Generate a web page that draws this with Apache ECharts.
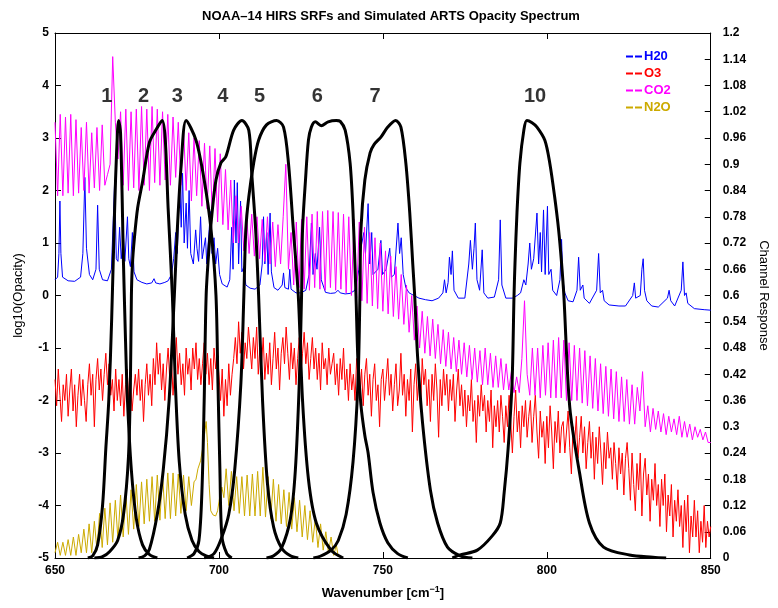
<!DOCTYPE html>
<html>
<head>
<meta charset="utf-8">
<title>NOAA-14 HIRS SRFs</title>
<script src="https://cdn.jsdelivr.net/npm/echarts@6/dist/echarts.min.js"></script>
<style>
  html, body { margin: 0; padding: 0; background: #fff; }
  #chart { width: 778px; height: 608px; }
</style>
</head>
<body>
<div id="chart"></div>
<script>
// spectra: CO2 and O3 on a regular wavenumber grid, H2O and N2O as [wavenumber, log10 opacity]
const CO2_START = 650, CO2_STEP = 0.8
const co2Values = [
  3.3, 1.9, 3.45, 1.9, 3.4, 1.95, 3.45, 1.9, 3.35, 1.95,
  3.2, 2.0, 3.3, 1.95, 3.1, 2.05, 3.2, 2.0, 3.25, 2.1,
  2.3, 2.5, 4.55, 3.3, 2.6, 3.5, 2.1, 3.55, 2.0, 3.5,
  2.05, 3.55, 2.0, 3.6, 2.1, 3.55, 2.0, 3.6, 2.15, 3.55,
  2.1, 3.5, 2.2, 3.45, 2.1, 3.4, 2.25, 3.3, 2.1, 3.2,
  2.0, 3.1, 1.8, 3.0, 1.9, 2.95, 1.7, 2.9, 1.65, 2.85,
  1.5, 2.8, 1.4, 2.7, 1.35, 2.4, 1.25, 2.2, 1.0, 1.9,
  1.0, 1.7, 0.85, 1.6, 0.8, 1.55, 0.75, 1.5, 0.7, 1.45,
  0.65, 1.5, 0.6, 1.4, 0.55, 1.35, 0.6, 1.5, 2.5, 0.5,
  1.2, 0.2, 1.4, 0.15, 1.45, 0.12, 1.5, 0.1, 1.55, 0.15,
  1.6, 0.12, 1.6, 0.1, 1.62, 0.15, 1.6, 0.1, 1.58, 0.12,
  1.55, 0.05, 1.5, 0.0, 1.45, -0.05, 1.4, -0.1, 1.3, -0.15,
  1.2, -0.2, 1.1, -0.25, 1.0, -0.3, 0.85, -0.35, 0.75, -0.4,
  0.55, -0.45, 0.4, -0.55, 0.2, -0.7, 0.0, -0.85, -0.2, -1.0,
  -0.3, -1.1, -0.4, -1.15, -0.45, -1.2, -0.55, -1.3, -0.65, -1.35,
  -0.7, -1.4, -0.8, -1.45, -0.85, -1.5, -0.9, -1.55, -0.95, -1.6,
  -1.0, -1.65, -1.05, -1.7, -1.0, -1.7, -1.1, -1.75, -1.15, -1.75,
  -1.2, -1.8, -1.3, -1.8, -1.45, -1.85, -1.55, -1.85, -1.2, -0.1,
  -1.5, -1.9, -1.0, -1.9, -1.0, -1.95, -0.95, -1.9, -0.9, -1.95,
  -0.85, -1.95, -0.8, -1.95, -0.85, -2.0, -0.9, -2.0, -0.95, -2.0,
  -1.0, -2.05, -1.05, -2.1, -1.15, -2.15, -1.2, -2.2, -1.3, -2.25,
  -1.35, -2.3, -1.4, -2.35, -1.45, -2.4, -1.55, -2.4, -1.6, -2.45,
  -1.7, -2.45, -1.75, -2.2, -1.45, -2.5, -2.1, -2.6, -2.15, -2.55,
  -2.2, -2.6, -2.25, -2.65, -2.3, -2.6, -2.35, -2.65, -2.3, -2.7,
  -2.4, -2.7, -2.45, -2.75, -2.5, -2.7, -2.55, -2.75, -2.6, -2.8, -2.8
]

const O3_START = 650, O3_STEP = 0.5
const o3Values = [
  -1.6, -2.1, -1.4, -1.9, -2.4, -1.7, -2.0, -1.5, -2.3, -1.8,
  -1.4, -2.2, -1.7, -2.5, -1.9, -1.5, -2.1, -1.6, -2.0, -2.4,
  -1.7, -1.3, -1.9, -1.5, -2.5, -1.6, -1.2, -1.8, -1.4, -2.0,
  -1.5, -1.1, -1.7, -1.3, -1.9, -1.6, -2.2, -1.4, -2.0, -1.6,
  -2.1, -1.5, -2.3, -1.7, -1.4, -2.0, -1.6, -2.2, -1.8, -1.5,
  -1.9, -1.4, -2.0, -1.6, -2.4, -1.7, -1.3, -1.9, -1.5, -2.1,
  -1.2, -1.7, -0.9, -1.5, -1.1, -1.8, -1.3, -2.0, -1.4, -1.0,
  -1.6, -1.2, -1.9, -1.4, -0.8, -1.5, -1.1, -1.7, -1.3, -1.9,
  -1.0, -1.5, -1.2, -1.8, -1.0, -1.4, -0.9, -1.6, -1.2, -1.7,
  -1.3, -0.9, -1.5, -1.1, -1.7, -1.2, -1.8, -1.0, -1.4, -1.1,
  -1.5, -2.0, -1.4, -2.3, -1.6, -2.1, -1.3, -1.9, -1.5, -1.2,
  -0.8, -1.3, -0.5, -1.1, -0.7, -1.4, -0.9, -1.2, -0.6, -1.0,
  -1.4, -0.8, -1.2, -0.6, -1.5, -1.0, -1.3, -0.8, -1.6, -1.1,
  -1.5, -0.9, -1.7, -1.2, -0.7, -1.4, -1.0, -1.8, -1.1, -0.8,
  -1.3, -0.6, -1.1, -1.6, -0.9, -1.4, -1.0, -1.7, -1.2, -0.8,
  -1.5, -1.1, -0.7, -1.3, -0.9, -1.6, -1.2, -0.8, -1.4, -1.0,
  -1.6, -1.1, -1.8, -0.9, -1.4, -1.2, -1.7, -1.0, -1.5, -1.3,
  -1.1, -1.7, -1.3, -1.9, -1.2, -1.6, -1.0, -1.8, -1.4, -2.0,
  -1.3, -1.8, -1.5, -2.0, -1.2, -1.6, -1.9, -1.4, -2.1, -1.5,
  -1.2, -1.9, -1.5, -2.3, -1.6, -1.3, -2.0, -1.7, -2.5, -1.6,
  -1.4, -2.0, -1.6, -1.2, -1.9, -1.5, -2.2, -1.7, -1.3, -2.1,
  -1.8, -1.1, -1.9, -1.5, -2.3, -1.6, -2.0, -1.4, -2.6, -1.7,
  -1.3, -2.0, -1.5, -2.2, -1.2, -1.7, -1.4, -2.1, -1.6, -2.4,
  -1.5, -2.0, -1.3, -1.8, -2.7, -1.6, -2.1, -1.4, -1.9, -1.5,
  -2.2, -1.6, -2.0, -1.5, -2.4, -1.8, -1.4, -2.1, -1.7, -2.3,
  -1.8, -2.5, -1.9, -2.2, -1.6, -2.4, -2.0, -2.8, -1.9, -2.3,
  -1.7, -2.2, -1.9, -2.6, -2.0, -2.4, -1.8, -2.9, -2.1, -2.5,
  -2.0, -2.6, -1.9, -2.3, -2.8, -2.1, -2.5, -1.9, -2.4, -3.0,
  -2.3, -1.8, -2.6, -2.2, -2.9, -2.1, -2.5, -2.0, -2.7, -2.3,
  -2.0, -2.8, -2.3, -1.9, -2.6, -3.1, -2.2, -2.7, -2.4, -3.2,
  -2.3, -2.9, -2.1, -2.6, -3.3, -2.4, -2.8, -2.2, -3.0, -2.5,
  -2.4, -3.0, -2.6, -2.2, -2.9, -3.4, -2.5, -2.8, -2.3, -3.1,
  -2.7, -2.3, -3.0, -2.5, -3.3, -2.8, -2.4, -3.1, -2.6, -3.5,
  -2.7, -3.2, -2.5, -3.0, -3.6, -2.8, -3.3, -2.6, -3.1, -2.9,
  -3.5, -2.8, -3.2, -3.7, -2.9, -3.4, -3.0, -3.8, -3.1, -2.8,
  -3.3, -3.9, -3.0, -3.6, -4.1, -3.2, -3.7, -3.0, -4.2, -3.4,
  -3.1, -3.8, -3.4, -4.3, -3.5, -3.9, -3.2, -4.0, -3.6, -4.4,
  -3.5, -4.0, -3.4, -4.5, -3.8, -4.2, -3.6, -4.6, -3.9, -4.3,
  -3.7, -4.4, -4.0, -4.8, -3.9, -4.5, -3.8, -4.9, -4.2, -4.6,
  -3.9, -4.6, -4.1, -4.9, -4.3, -4.7, -4.0, -4.8, -4.3, -4.6,
  -4.4
]

const h2oPoints = [
  [650, 0.3], [650.8, 0.35], [651.2, 0.8], [651.5, 1.8], [651.8, 0.8], [652.3, 0.35], [654, 0.28], [656, 0.27],
  [657.8, 0.35], [658.5, 0.8], [659.1, 2.25], [659.6, 0.9], [660.5, 0.4], [661.5, 0.3], [662.5, 0.5], [663.0, 1.72],
  [663.5, 0.5], [664.5, 0.3], [666, 0.28], [667.2, 0.5], [667.8, 1.5], [668.2, 2.2], [668.7, 0.7], [669.2, 0.65],
  [669.7, 1.3], [670.2, 0.7], [670.9, 1.1], [671.3, 0.65], [672.1, 1.5], [672.5, 0.7], [673.0, 0.55], [673.6, 1.2],
  [674.1, 0.45], [675, 0.3], [676.5, 0.25], [678, 0.22], [679.5, 0.24], [680.2, 0.32], [680.7, 0.24], [682, 0.22],
  [683.5, 0.25], [684.5, 0.28], [685.5, 0.4], [686.2, 0.7], [686.8, 1.2], [687.3, 0.8], [688.0, 2.2], [688.5, 1.3],
  [688.9, 2.33], [689.4, 1.0], [690.0, 1.76], [690.4, 0.9], [690.9, 2.0], [691.4, 0.8], [692.2, 0.6], [692.9, 1.25],
  [693.3, 0.9], [693.8, 0.65], [694.4, 1.5], [694.9, 0.7], [695.9, 1.1], [696.3, 0.6], [697.4, 1.6], [697.9, 0.8],
  [698.5, 1.1], [699, 0.6], [699.6, 0.9], [700.2, 0.4], [701, 0.22], [702.5, 0.16], [703.3, 0.3], [703.9, 1.3],
  [704.3, 0.5], [704.7, 2.2], [705.2, 1.0], [705.6, 2.15], [706.0, 0.6], [706.6, 1.8], [707.0, 0.45], [707.6, 0.55],
  [708.2, 0.2], [709.5, 0.14], [711, 0.12], [712.5, 0.2], [713.2, 0.6], [713.6, 1.5], [714, 0.6], [714.6, 1.2],
  [715, 0.4], [715.6, 1.57], [716, 0.45], [716.8, 0.15], [718, 0.1], [719.3, 0.2], [719.7, 0.43], [720.1, 0.15],
  [721.2, 0.12], [721.6, 0.5], [722, 0.12], [723.5, 0.05], [725, 0.05], [726.5, 0.1], [727.5, 0.4], [728.2, 1.38],
  [728.7, 0.4], [729.4, 0.8], [729.9, 0.5], [730.7, 1.3], [731.2, 0.3], [732.5, 0.06], [734, 0.04], [735.5, 0.05],
  [736.3, 0.1], [737, 0.05], [738.5, 0.03], [740, 0.04], [741.5, 0.1], [742.7, 0.5], [743.3, 0.9], [744.2, 1.2],
  [744.7, 0.8], [745.5, 1.75], [746, 0.6], [746.6, 1.2], [747, 0.4], [748.5, 0.5], [749.4, 1.05], [749.9, 0.4],
  [751, 0.5], [752.1, 0.9], [752.6, 0.35], [753.5, 0.4], [754.6, 1.38], [755.1, 0.8], [755.6, 1.1], [756.2, 0.4],
  [757, 0.15], [758, 0.05], [759.5, 0.0], [761, -0.05], [763, -0.08], [765, -0.1], [767, -0.05], [768.3, 0.05],
  [768.8, 0.3], [769.3, 0.05], [769.9, 0.25], [770.3, 0.73], [770.8, 0.4], [771.2, 0.85], [771.7, 0.1], [773, -0.05],
  [775, -0.05], [776.2, 0.6], [776.7, 1.05], [777.3, 0.5], [777.8, 0.9], [778.2, 1.38], [778.7, 0.3], [779.5, 0.1],
  [780.3, 0.87], [780.8, 0.05], [782, -0.05], [784, -0.03], [785.3, 0.3], [785.8, 1.44], [786.3, 0.2], [787.5, -0.05],
  [789.5, -0.05], [791, 0.0], [792, 0.05], [793, 0.3], [793.6, 0.2], [794.3, 0.6], [794.8, 1.0], [795.3, 0.5],
  [796.0, 0.7], [797, 1.57], [797.5, 0.6], [798, 1.2], [798.4, 0.45], [799.0, 1.63], [799.5, 0.4], [800.2, 1.7],
  [800.6, 0.4], [801.3, 0.5], [801.8, 0.1], [803, 0.0], [804, 0.3], [804.5, 1.07], [804.9, 0.3], [805.5, 0.05],
  [806.5, -0.1], [808, -0.12], [809.2, 0.1], [809.7, 0.73], [810.2, 0.1], [811, 0.2], [811.4, -0.05], [813, -0.15],
  [815.2, 0.1], [815.8, 0.8], [816.3, 0.05], [817, 0.1], [817.5, -0.1], [819, -0.18], [822, -0.2], [824, -0.2],
  [826.2, 0.0], [826.7, 0.24], [827.1, -0.05], [828.5, 0.0], [829.0, 0.5], [829.4, 0.7], [829.8, 0.1], [830.5, -0.1],
  [832, -0.2], [834, -0.22], [836.8, -0.05], [837.3, 0.1], [837.8, -0.1], [839, -0.2], [841, 0.1], [841.5, 0.64],
  [842, 0.0], [842.5, 0.05], [843, -0.15], [845, -0.25], [848, -0.27], [850, -0.28]
]

const n2oPoints = [
  [650.0, -4.9], [650.8, -4.7], [651.6, -4.95], [652.4, -4.7], [653.2, -4.95], [654.0, -4.65], [654.8, -4.95],
  [655.6, -4.6], [656.4, -4.95], [657.2, -4.55], [658.0, -4.9], [658.8, -4.45], [659.6, -4.9], [660.4, -4.35],
  [661.2, -4.9], [662.0, -4.3], [662.8, -4.85], [663.6, -4.15], [664.4, -4.8], [665.2, -4.05], [666.0, -4.75],
  [666.8, -3.95], [667.6, -4.7], [668.4, -3.9], [669.2, -4.65], [670.0, -3.8], [670.8, -4.6], [671.6, -3.75],
  [672.4, -4.55], [673.2, -3.7], [674.0, -4.45], [674.8, -3.6], [675.6, -4.4], [676.4, -3.55], [677.2, -4.35],
  [678.0, -3.5], [678.8, -4.3], [679.6, -3.45], [680.4, -4.3], [681.2, -3.42], [682.0, -4.28], [682.8, -3.4],
  [683.6, -4.25], [684.4, -3.38], [685.2, -4.25], [686.0, -3.38], [686.8, -4.2], [687.6, -3.4], [688.4, -4.15],
  [689.2, -3.42], [690.0, -4.1], [690.8, -3.45], [691.6, -4.0], [692.4, -3.55], [693.0, -3.5], [693.6, -3.3],
  [694.4, -3.15], [695.2, -2.85], [695.8, -2.55], [696.1, -2.4], [696.5, -2.8], [697.0, -3.6], [697.5, -4.1],
  [698.2, -4.18], [699.0, -4.2], [699.6, -4.1], [700.2, -3.85], [700.9, -3.65], [701.5, -3.85], [702.2, -3.3],
  [703.0, -4.0], [703.8, -3.35], [704.6, -4.1], [705.4, -3.45], [706.2, -4.15], [707.0, -3.45], [707.8, -4.2],
  [708.6, -3.42], [709.4, -4.2], [710.2, -3.4], [711.0, -4.2], [711.8, -3.35], [712.6, -4.2], [713.4, -3.27],
  [714.2, -4.22], [715.0, -3.45], [715.8, -4.25], [716.6, -3.5], [717.4, -4.3], [718.2, -3.6], [719.0, -4.35],
  [719.8, -3.7], [720.6, -4.4], [721.4, -3.75], [722.2, -4.45], [723.0, -3.85], [723.8, -4.5], [724.6, -3.9],
  [725.4, -4.6], [726.2, -4.0], [727.0, -4.65], [727.8, -4.1], [728.6, -4.7], [729.4, -4.25], [730.2, -4.8],
  [731.0, -4.35], [731.8, -4.85], [732.6, -4.5], [733.4, -4.9], [734.2, -4.6], [735.0, -4.95], [735.8, -4.75],
  [736.4, -4.98]
]

// HIRS spectral response functions, [wavenumber, response]
const srfCh1 = [[660.0, 0], [661.5, 0.005], [663.0, 0.03], [664.5, 0.12], [665.5, 0.25], [666.4, 0.36], [667.3, 0.55],
  [668.2, 0.8], [668.8, 0.93], [669.4, 1.0], [670.0, 0.97], [670.9, 0.67], [671.5, 0.5], [672.1, 0.36], [673.3, 0.2],
  [674.8, 0.09], [676.7, 0.03], [678.8, 0.008], [681.2, 0]]
const srfCh2 = [[662.0, 0], [664.5, 0.003], [666.7, 0.015], [669.1, 0.04], [670.9, 0.1], [672.4, 0.23], [673.0, 0.4],
  [673.3, 0.6], [673.6, 0.67], [674.2, 0.73], [675.2, 0.8], [676.7, 0.86], [678.8, 0.95], [680.9, 0.98], [682.7, 1.0],
  [683.6, 0.96], [684.5, 0.8], [685.8, 0.6], [686.7, 0.4], [687.9, 0.22], [689.7, 0.1], [691.8, 0.04], [693.9, 0.015],
  [696.1, 0.005], [698.5, 0]]
const srfCh3 = [[675.5, 0], [677.3, 0.005], [678.8, 0.02], [681.2, 0.1], [683.0, 0.2], [684.8, 0.36], [686.4, 0.6],
  [687.3, 0.75], [688.5, 0.9], [690.0, 1.0], [693.0, 0.955], [695.5, 0.864], [697.6, 0.75], [699.1, 0.6],
  [699.7, 0.4], [700.3, 0.2], [700.9, 0.05], [702.4, 0.01], [703.9, 0]]
const srfCh4 = [[690.3, 0], [692.4, 0.01], [693.9, 0.04], [694.8, 0.15], [695.5, 0.36], [696.1, 0.6], [697.0, 0.711],
  [697.9, 0.789], [699.1, 0.864], [700.6, 0.903], [702.1, 0.917], [704.5, 0.978], [707.0, 1.0], [709.1, 0.978],
  [710.0, 0.88], [711.2, 0.75], [712.1, 0.6], [713.3, 0.36], [714.8, 0.17], [716.7, 0.07], [719.1, 0.023],
  [721.8, 0.005], [724.2, 0]]
const srfCh5 = [[695.5, 0], [698.5, 0.01], [700.9, 0.048], [703.0, 0.1], [704.8, 0.2], [706.7, 0.4], [707.6, 0.6],
  [708.2, 0.75], [709.1, 0.825], [710.6, 0.903], [712.1, 0.955], [714.5, 0.99], [717.6, 1.0], [719.7, 0.985],
  [721.2, 0.903], [722.7, 0.75], [724.2, 0.6], [725.5, 0.36], [727.3, 0.18], [729.7, 0.08], [734.2, 0.018],
  [737.9, 0]]
const srfCh6 = [[714.5, 0], [716.7, 0.005], [719.1, 0.023], [721.8, 0.09], [723.3, 0.2], [724.5, 0.4], [725.2, 0.6],
  [725.5, 0.75], [726.4, 0.864], [727.3, 0.955], [728.2, 0.985], [729.4, 0.997], [731.2, 0.988], [733.3, 0.997],
  [735.8, 1.0], [737.0, 0.998], [738.5, 0.978], [740.0, 0.903], [740.9, 0.789], [741.8, 0.6], [742.4, 0.45],
  [743.3, 0.35], [744.5, 0.28], [745.5, 0.24], [747.0, 0.15], [749.1, 0.08], [751.5, 0.035], [754.5, 0.01],
  [757.6, 0]]
const srfCh7 = [[728.8, 0], [730.9, 0.004], [734.2, 0.018], [736.4, 0.04], [738.8, 0.1], [740.9, 0.22], [742.4, 0.4],
  [743.0, 0.6], [743.3, 0.75], [744.5, 0.864], [746.1, 0.926], [747.3, 0.945], [749.4, 0.962], [751.5, 0.985],
  [753.9, 1.0], [755.5, 0.985], [757.0, 0.903], [758.2, 0.789], [759.1, 0.674], [759.7, 0.6], [760.6, 0.459],
  [762.1, 0.309], [764.5, 0.155], [766.7, 0.08], [769.7, 0.025], [773.6, 0.005], [777.3, 0]]
const srfCh10 = [[771.2, 0], [773.6, 0.007], [778.8, 0.018], [783.3, 0.05], [785.8, 0.08], [787.0, 0.15], [788.2, 0.25],
  [789.4, 0.4], [790.0, 0.6], [790.3, 0.674], [790.9, 0.789], [791.8, 0.903], [793.0, 0.978], [793.9, 1.0],
  [795.5, 0.995], [797.0, 0.985], [799.4, 0.955], [800.9, 0.903], [802.4, 0.825], [803.6, 0.75], [804.5, 0.674],
  [805.2, 0.6], [807.0, 0.345], [810.0, 0.194], [813.0, 0.08], [817.3, 0.025], [825.2, 0.007], [832.4, 0.002],
  [836.4, 0]]

const channelNames = ['1', '2', '3', '4', '5', '6', '7', '10']
const channelLabelX = [665.8, 677.0, 687.3, 701.2, 712.4, 730.0, 747.6, 796.4]
const channelLabelY = 3.8

const FONT = "'Liberation Sans', Arial, Helvetica, sans-serif"

const gridData = (start, step, values) => values.map((v, i) => [start + i * step, v])

function specSeries(name, color, data) {
    return {
        name: name, type: 'line', data: data, xAxisIndex: 0, yAxisIndex: 0,
        symbol: 'none', lineStyle: {color: color, width: 1}, itemStyle: {color: color},
        silent: true, z: 2
    }
}

function srfSeries(data) {
    return {
        type: 'line', data: data, xAxisIndex: 0, yAxisIndex: 1, smooth: 0.3,
        symbol: 'none', lineStyle: {color: '#000', width: 3, join: 'round'}, silent: true, z: 3
    }
}

const chart = echarts.init(document.getElementById('chart'), null, {renderer: 'canvas'})

const dashIcon = 'path://M0,0h7v2h-7z M9,0h7v2h-7z'

const axisLineStyle = {show: true, onZero: false, lineStyle: {color: '#000', width: 1}}
const tickStyle = {show: true, inside: true, length: 6, lineStyle: {color: '#000'}}

chart.setOption({
    animation: false,
    backgroundColor: '#fff',
    title: {
        text: 'NOAA\u201314 HIRS SRFs and Simulated ARTS Opacity Spectrum',
        left: 386, top: 5, textAlign: 'center',
        textStyle: {fontFamily: FONT, fontSize: 13, fontWeight: 'bold', color: '#000'}
    },
    legend: {
        orient: 'vertical', left: 621, top: 45, itemGap: 4,
        itemWidth: 16, itemHeight: 2, icon: dashIcon,
        textStyle: {fontFamily: FONT, fontSize: 13, fontWeight: 'bold', padding: [0, 0, 0, -3]},
        data: [
            {name: 'H20', textStyle: {color: '#0000ff'}},
            {name: 'O3', textStyle: {color: '#ff0000'}},
            {name: 'CO2', textStyle: {color: '#ff00ff'}},
            {name: 'N2O', textStyle: {color: '#ccaa00'}}
        ]
    },
    grid: {left: 55, right: 62, top: 33, bottom: 50},
    xAxis: [{
        type: 'value', min: 650, max: 850, interval: 50, position: 'bottom',
        name: '{a|Wavenumber [cm}{s|\u22121}{a|]}', nameLocation: 'middle', nameGap: 27,
        nameTextStyle: {
            rich: {
                a: {fontFamily: FONT, fontSize: 13, fontWeight: 'bold', color: '#000'},
                s: {fontFamily: FONT, fontSize: 9, fontWeight: 'bold', color: '#000', verticalAlign: 'top', padding: [0, 0, 8, 0]}
            }
        },
        axisLine: axisLineStyle,
        axisTick: tickStyle,
        axisLabel: {fontFamily: FONT, fontSize: 12, fontWeight: 'bold', color: '#000', margin: 7},
        splitLine: {show: false}
    }, {
        type: 'value', min: 650, max: 850, interval: 50, position: 'top',
        axisLine: axisLineStyle,
        axisTick: tickStyle,
        axisLabel: {show: false}, splitLine: {show: false}
    }],
    yAxis: [{
        type: 'value', min: -5, max: 5, interval: 1, position: 'left',
        name: 'log10(Opacity)', nameLocation: 'middle', nameGap: 30,
        nameTextStyle: {fontFamily: FONT, fontSize: 13, color: '#000'},
        axisLine: axisLineStyle,
        axisTick: tickStyle,
        axisLabel: {fontFamily: FONT, fontSize: 12, fontWeight: 'bold', color: '#000', margin: 6},
        splitLine: {show: false}
    }, {
        type: 'value', min: 0, max: 1.2, interval: 0.06, position: 'right',
        name: 'Channel Response', nameLocation: 'middle', nameGap: 46, nameRotate: -90,
        nameTextStyle: {fontFamily: FONT, fontSize: 13, color: '#000'},
        axisLine: axisLineStyle,
        axisTick: tickStyle,
        axisLabel: {fontFamily: FONT, fontSize: 12, fontWeight: 'bold', color: '#000', margin: 12},
        splitLine: {show: false}
    }],
    series: [
        specSeries('H20', '#0000ff', h2oPoints),
        specSeries('O3', '#ff0000', gridData(O3_START, O3_STEP, o3Values)),
        specSeries('CO2', '#ff00ff', gridData(CO2_START, CO2_STEP, co2Values)),
        specSeries('N2O', '#ccaa00', n2oPoints),
        srfSeries(srfCh1), srfSeries(srfCh2), srfSeries(srfCh3), srfSeries(srfCh4),
        srfSeries(srfCh5), srfSeries(srfCh6), srfSeries(srfCh7), srfSeries(srfCh10),
        {
            type: 'scatter', xAxisIndex: 0, yAxisIndex: 0, symbolSize: 0, silent: true, z: 4,
            data: channelNames.map((n, i) => ({value: [channelLabelX[i], channelLabelY], name: n})),
            label: {
                show: true, position: 'inside', formatter: p => p.name,
                fontFamily: FONT, fontSize: 20, fontWeight: 'bold', color: '#000'
            }
        }
    ]
})
</script>
</body>
</html>
